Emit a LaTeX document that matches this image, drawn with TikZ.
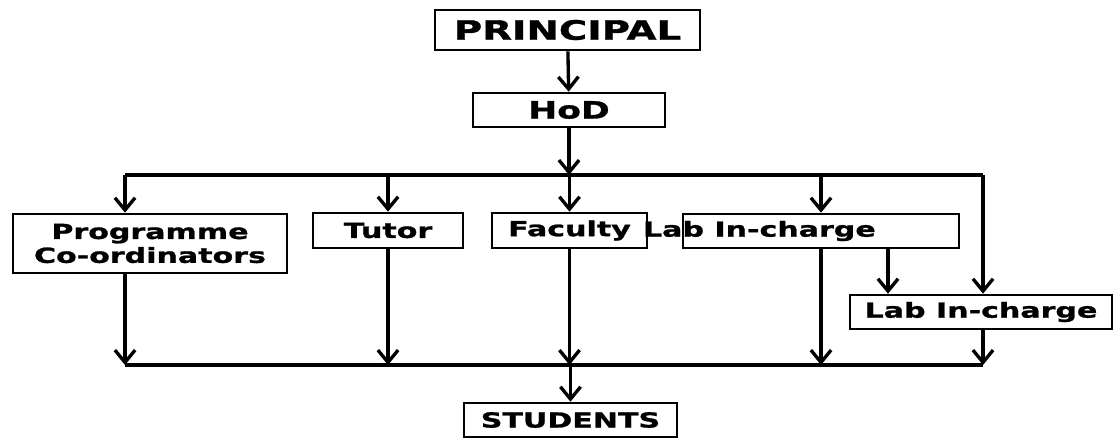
\documentclass[tikz,border=0pt]{standalone}
\usepackage{fontspec}
\newfontfamily\orgfont{DejaVu Sans}[FakeStretch=1.45, FakeBold=1.2]
\usetikzlibrary{arrows.meta}

\begin{document}
\begin{tikzpicture}[x=0.02cm, y=-0.02cm,
    orgbox/.style={rectangle, draw=black, line width=1.5pt, inner sep=0pt, align=center,
        font=\orgfont\bfseries\fontsize{11.8}{13.6}\selectfont},
    link/.style={line width=1.9pt},
    flow/.style={link, -{Straight Barb[length=7pt, width=11.5pt]}}]

        \useasboundingbox (0,0) rectangle (1118,437);

        % boxes
        \node[orgbox, minimum width=5.3cm, minimum height=0.8cm, font=\orgfont\bfseries\fontsize{15.2}{16}\selectfont] (princ) at (567.5,30) {PRINCIPAL};
        \node[orgbox, minimum width=3.84cm, minimum height=0.68cm, font=\orgfont\bfseries\fontsize{13.6}{15}\selectfont] (hod) at (569,110) {HoD};
        \node[orgbox, minimum width=5.48cm, minimum height=1.18cm] (prog) at (150,243.5) {Programme\\Co-ordinators};
        \node[orgbox, minimum width=3.0cm, minimum height=0.7cm] (tutor) at (388,230.5) {Tutor};
        \node[orgbox, minimum width=3.1cm, minimum height=0.7cm] (fac) at (569.5,230.5) {Faculty};
        \node[orgbox, minimum width=5.52cm, minimum height=0.68cm] (lab1) at (821,231) {};
        \node[orgbox, draw=none, anchor=west] (lab1txt) at ([xshift=-0.8cm]lab1.west) {Lab In-charge};
        \node[orgbox, minimum width=5.24cm, minimum height=0.68cm] (lab2) at (981,312) {Lab In-charge};
        \node[orgbox, minimum width=4.26cm, minimum height=0.68cm] (stud) at (570.5,420) {STUDENTS};

        % bus lines
        \coordinate (tl) at (125,175);
        \coordinate (tr) at (983,175);
        \coordinate (bl) at (125,365);
        \coordinate (br) at (983,365);
        \draw[link] (tl) -- (tr);
        \draw[link] (bl) -- (br);

        % top down
        \draw[flow] (princ) -- (hod);
        \draw[flow] (hod.south) -- (hod.south |- tl);
        \draw[flow] (tl) -- (tl |- prog.north);
        \draw[flow] (tutor.north |- tl) -- (tutor.north);
        \draw[flow] (fac.north |- tl) -- (fac.north);
        \draw[flow] (lab1.north |- tl) -- (lab1.north);
        \draw[flow] (tr) -- (tr |- lab2.north);
        \draw[flow] ([xshift=1.34cm]lab1.south) -- ([xshift=1.34cm]lab1.south |- lab2.north);

        % into students
        \draw[flow] (prog.south -| tl) -- (bl);
        \draw[flow] (tutor.south) -- (tutor.south |- bl);
        \draw[flow] (fac.south) -- (fac.south |- bl);
        \draw[flow] (lab1.south) -- (lab1.south |- bl);
        \draw[flow] (lab2.south -| br) -- (br);
        \draw[flow] (stud.north |- bl) -- (stud.north);

\end{tikzpicture}
\end{document}
